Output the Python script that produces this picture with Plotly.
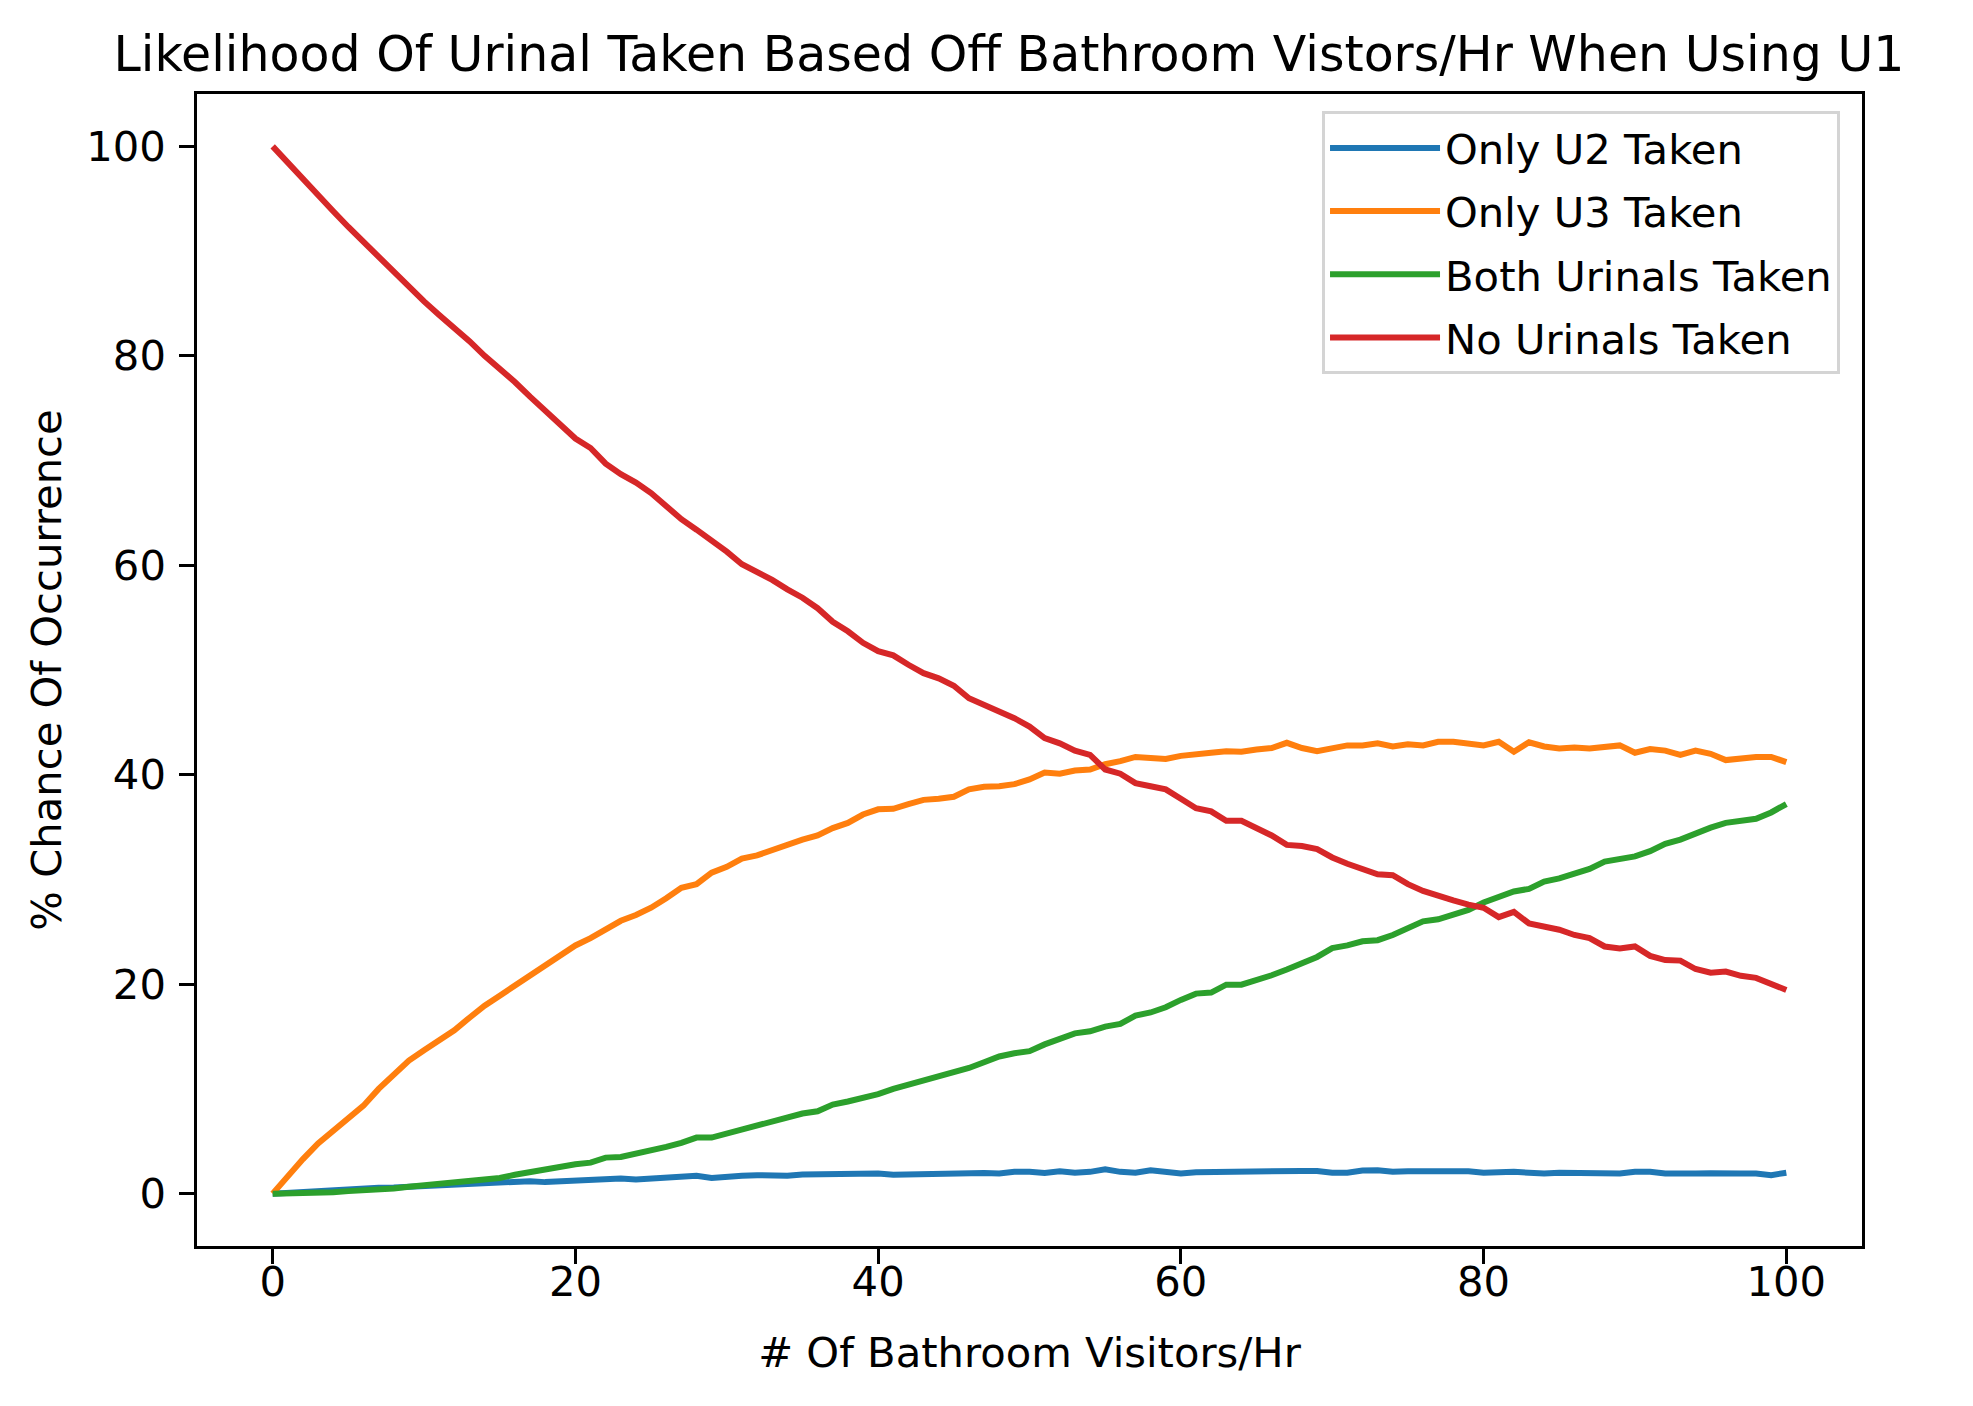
import plotly.graph_objects as go

visitors = list(range(0, 101))

only_u2 = [0, 0.1, 0.17, 0.2, 0.33, 0.4, 0.46, 0.56, 0.59, 0.65, 0.75, 0.82, 0.9, 0.97, 1.03, 1.06, 1.1, 1.19, 1.1, 1.19,
           1.25, 1.3, 1.38, 1.45, 1.35, 1.41, 1.45, 1.5, 1.7, 1.5, 1.67, 1.7, 1.76, 1.73, 1.7, 1.83, 1.86, 1.86, 1.98, 1.98,
           1.92, 1.8, 1.83, 1.86, 1.92, 1.98, 2.08, 1.98, 1.92, 2.08, 2.08, 1.98, 2.14, 2.0, 2.08, 2.33, 2.08, 2.0, 2.24, 2.08,
           1.92, 2.05, 2.08, 2.14, 2.14, 2.17, 2.2, 2.2, 2.17, 2.17, 2.0, 2.0, 2.2, 2.24, 2.08, 2.14, 2.17, 2.14, 2.14, 2.14,
           2.0, 2.08, 2.08, 2.0, 1.92, 2.0, 2.0, 2.0, 2.0, 1.92, 2.08, 2.08, 1.92, 1.98, 1.92, 1.95, 2.0, 1.92, 1.92, 1.76,
           2.0]

only_u3 = [0, 1.75, 3.3, 4.8, 6.05, 7.3, 8.4, 10.0, 11.45, 12.7, 13.7, 14.6, 15.6, 16.8, 17.95, 18.9, 19.85, 20.8, 21.9, 22.7,
           23.7, 24.4, 25.25, 26.05, 26.6, 27.3, 28.2, 29.2, 29.55, 30.65, 31.2, 32.0, 32.3, 32.8, 33.4, 33.8, 34.2, 34.9, 35.4, 36.2,
           36.7, 36.75, 37.2, 37.6, 37.7, 37.9, 38.6, 38.85, 38.9, 39.1, 39.55, 40.2, 40.1, 40.4, 40.5, 41.0, 41.3, 41.7, 41.6, 41.5,
           41.8, 42.0, 42.1, 42.25, 42.2, 42.4, 42.55, 43.05, 42.55, 42.25, 42.5, 42.8, 42.8, 43.0, 42.7, 42.9, 42.8, 43.15, 43.15, 43.0,
           42.8, 43.15, 42.2, 43.1, 42.7, 42.5, 42.6, 42.5, 42.6, 42.8, 42.1, 42.45, 42.3, 41.9, 42.3, 42.0, 41.4, 41.6, 41.7, 41.7,
           41.2]

both_taken = [0, 0, 0.05, 0.08, 0.14, 0.24, 0.3, 0.33, 0.49, 0.65, 0.78, 0.9, 1.03, 1.19, 1.35, 1.5, 1.8, 2.08, 2.3, 2.5,
              2.8, 2.96, 3.44, 3.5, 3.8, 4.05, 4.46, 4.85, 5.35, 5.35, 5.74, 6.1, 6.5, 6.9, 7.3, 7.65, 7.86, 8.5, 8.8, 9.1,
              9.5, 10.0, 10.4, 10.9, 11.2, 11.6, 12.0, 12.55, 13.1, 13.4, 13.6, 14.25, 14.8, 15.3, 15.5, 15.95, 16.2, 17.0, 17.3, 17.8,
              18.5, 19.1, 19.2, 19.95, 19.95, 20.35, 20.85, 21.4, 22.0, 22.6, 23.45, 23.7, 24.1, 24.2, 24.7, 25.3, 26.0, 26.2, 26.6, 27.1,
              27.8, 28.3, 28.85, 29.1, 29.8, 30.1, 30.6, 31.0, 31.7, 31.9, 32.2, 32.7, 33.4, 33.8, 34.4, 34.95, 35.4, 35.65, 35.8, 36.4,
              37.2]

none_taken = [100, 98.4, 96.8, 95.3, 93.8, 92.3, 90.9, 89.3, 87.9, 86.5, 85.2, 83.9, 82.7, 81.4, 80.0, 78.8, 77.5, 76.1, 74.7, 73.4,
              72.1, 71.2, 69.7, 68.7, 67.9, 66.9, 65.6, 64.4, 63.4, 62.4, 61.3, 60.1, 59.4, 58.6, 57.7, 56.9, 55.9, 54.6, 53.7, 52.6,
              51.8, 51.4, 50.5, 49.7, 49.2, 48.5, 47.3, 46.7, 46.1, 45.4, 44.6, 43.5, 43.0, 42.3, 41.9, 40.5, 40.1, 39.2, 38.9, 38.6,
              37.7, 36.8, 36.5, 35.6, 35.6, 34.9, 34.2, 33.3, 33.2, 32.9, 32.1, 31.5, 31.0, 30.5, 30.4, 29.55, 28.9, 28.4, 28.0, 27.6,
              27.3, 26.4, 26.9, 25.8, 25.55, 25.2, 24.7, 24.4, 23.6, 23.4, 23.6, 22.7, 22.3, 22.25, 21.45, 21.1, 21.2, 20.8, 20.6, 20.0,
              19.45]

series_names = ["Only U2 Taken", "Only U3 Taken", "Both Urinals Taken", "No Urinals Taken"]
series_values = [only_u2, only_u3, both_taken, none_taken]
series_colors = ["#1f77b4", "#ff7f0e", "#2ca02c", "#d62728"]
tick_vals = [0, 20, 40, 60, 80, 100]

FONT = "DejaVu Sans, Verdana, sans-serif"
FS = 41.7
FS_TITLE = 49

fig = go.Figure()
for i, (name, vals, col) in enumerate(zip(series_names, series_values, series_colors)):
    fig.add_trace(go.Scatter(x=visitors, y=vals, mode="lines", name=name,
                             legendgroup=f"g{i}",
                             line=dict(color=col, width=6)))

# page body has an 8px margin, so the figure is sized/positioned accordingly
W, H = 1957, 1390
L, R, T, B = 189, 103, 86, 152

axis_common = dict(
    showgrid=False, zeroline=False, showline=True, linecolor="black", linewidth=3.3,
    mirror=True, ticks="outside", ticklen=14.6, tickwidth=3.3, tickcolor="black",
    tickfont=dict(family=FONT, size=FS, color="black"),
    tickvals=tick_vals, ticktext=[str(v) for v in tick_vals],
)

fig.update_layout(
    width=W, height=H,
    margin=dict(l=L, r=R, t=T, b=B, autoexpand=False),
    paper_bgcolor="white", plot_bgcolor="white",
    font=dict(family=FONT, color="black"),
    title=dict(text="Likelihood Of Urinal Taken Based Off Bathroom Vistors/Hr When Using U1",
               font=dict(family=FONT, size=FS_TITLE, color="black"),
               x=1001 / W, xanchor="center", xref="container",
               y=1 - 46 / H, yanchor="middle", yref="container"),
    xaxis=dict(range=[-5, 105], title=dict(text="# Of Bathroom Visitors/Hr",
                                          font=dict(family=FONT, size=FS, color="black"), standoff=34),
               ticklabelstandoff=-18, **axis_common),
    yaxis=dict(range=[-5, 105], title=dict(text="% Chance Of Occurrence",
                                          font=dict(family=FONT, size=FS, color="black"), standoff=12),
               ticklabelstandoff=5, **axis_common),
    legend=dict(x=0.9868, y=0.985, xanchor="right", yanchor="top",
                bgcolor="rgba(255,255,255,0.8)", bordercolor="#d4d4d4", borderwidth=3,
                font=dict(family=FONT, size=FS, color="black"),
                tracegroupgap=6, itemwidth=110),
    showlegend=True,
)

fig.write_html("out.html")
